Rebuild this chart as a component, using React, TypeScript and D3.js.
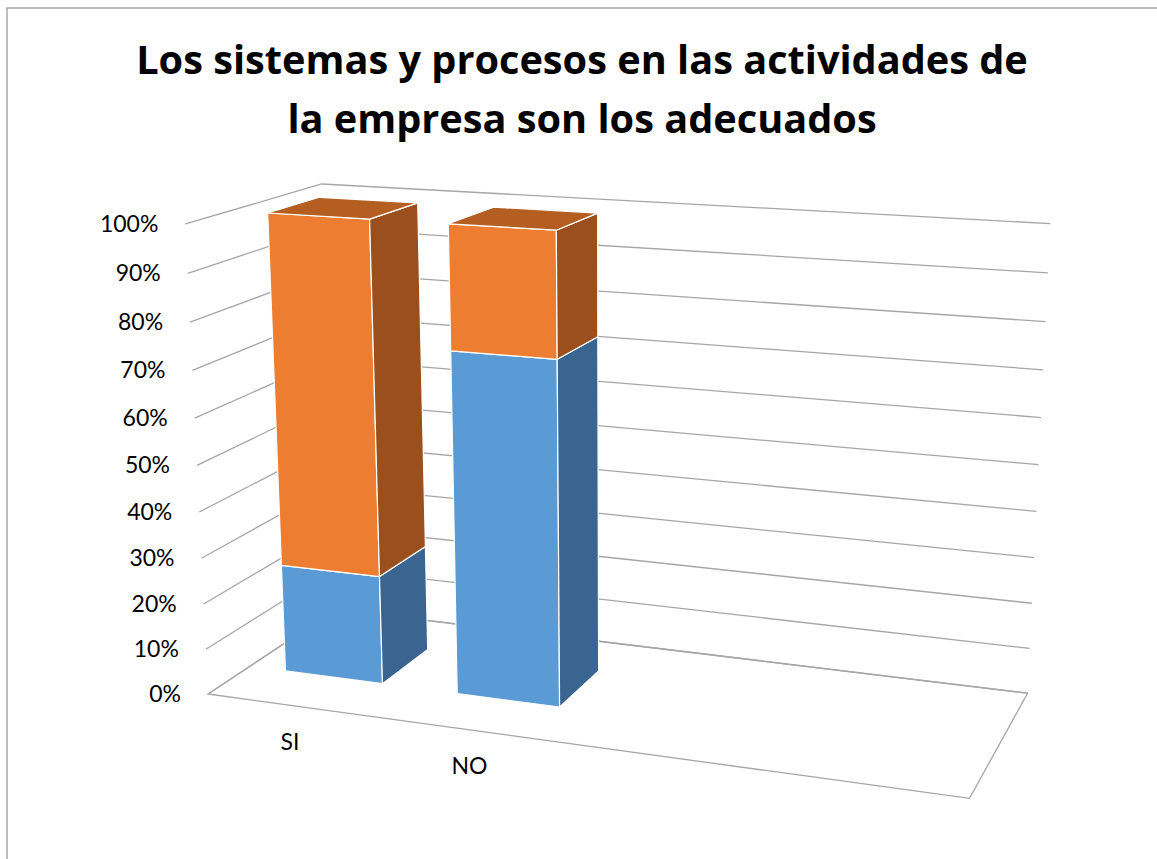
import React from "react";
import * as d3 from "d3";

const TITLE = ["Los sistemas y procesos en las actividades de", "la empresa son los adecuados"];
const CATEGORIES = ["SI", "NO", "", ""];
const SERIES_1 = [24, 74, 0, 0];
const SERIES_2 = [76, 26, 0, 0];
const Y_TICKS = [0, 0.1, 0.2, 0.3, 0.4, 0.5, 0.6, 0.7, 0.8, 0.9, 1];

const WIDTH = 1157;
const HEIGHT = 859;

// world box (px-ish units) and camera
const W = 790;
const H = 486;
const D = 290;
const CAM = { yaw: 20, pitch: 15, dist: 2338, focal: 2338, cx: 618, cy: 465 };

const COLORS = [
  { front: "#5b9bd5", side: "#3a6590", top: "#4a80b5" },
  { front: "#ed7d31", side: "#9a4f1d", top: "#b55e22" },
];

const rad = Math.PI / 180;
function project(x: number, y: number, z: number): [number, number] {
  const a = CAM.yaw * rad, b = CAM.pitch * rad;
  const vx = x - W / 2, vy = y - H / 2, vz = z - D / 2;
  const x1 = vx * Math.cos(a) + vz * Math.sin(a);
  const z1 = -vx * Math.sin(a) + vz * Math.cos(a);
  const yc = vy * Math.cos(b) + z1 * Math.sin(b);
  const zc = -vy * Math.sin(b) + z1 * Math.cos(b) + CAM.dist;
  return [CAM.cx + (CAM.focal * x1) / zc, CAM.cy - (CAM.focal * yc) / zc];
}

const poly = (pts: [number, number, number][]) =>
  pts.map((p) => project(p[0], p[1], p[2]).map((v) => v.toFixed(1)).join(",")).join(" ");

export default function App() {
  const xBand = d3.scaleBand<string>()
    .domain(CATEGORIES.map((c, i) => String(i)))
    .range([0, W])
    .paddingInner(0.75 / 1.75)
    .paddingOuter(0.375 / 1.75);
  const yScale = d3.scaleLinear().domain([0, 1]).range([0, H]);
  const bw = xBand.bandwidth();
  const z0 = (D - bw) / 2;
  const z1 = z0 + bw;

  const table = CATEGORIES.map((c, i) => ({ key: String(i), s1: SERIES_1[i], s2: SERIES_2[i] }));
  const stacked = d3.stack<any>().keys(["s1", "s2"]).offset(d3.stackOffsetExpand)(table);
  const fmt = d3.format(".0%");

  const line = (a: [number, number, number], b: [number, number, number], key: string) => {
    const p = project(...a);
    const q = project(...b);
    return <line key={key} x1={p[0]} y1={p[1]} x2={q[0]} y2={q[1]} stroke="#a6a6a6" strokeWidth={1.3} />;
  };

  const bars: React.ReactNode[] = [];
  CATEGORIES.forEach((c, i) => {
    const total = SERIES_1[i] + SERIES_2[i];
    if (!total) return;
    const x0 = xBand(String(i))!;
    const x1 = x0 + bw;
    stacked.forEach((s, si) => {
      const ya = yScale(s[i][0]);
      const yb = yScale(s[i][1]);
      const col = COLORS[si];
      const isTop = si === stacked.length - 1;
      bars.push(
        <g key={`b${i}-${si}`} stroke="#ffffff" strokeWidth={1.2} strokeLinejoin="round">
          <polygon points={poly([[x0, ya, z0], [x1, ya, z0], [x1, yb, z0], [x0, yb, z0]])} fill={col.front} />
          <polygon points={poly([[x1, ya, z0], [x1, ya, z1], [x1, yb, z1], [x1, yb, z0]])} fill={col.side} />
          {isTop && (
            <polygon points={poly([[x0, yb, z0], [x1, yb, z0], [x1, yb, z1], [x0, yb, z1]])} fill={col.top} />
          )}
        </g>
      );
    });
  });

  return (
    <div style={{ position: "absolute", left: 0, top: 0 }}>
      <svg width={WIDTH} height={HEIGHT} style={{ display: "block" }}>
        <rect x={0} y={0} width={WIDTH} height={HEIGHT} fill="#ffffff" />
        <rect x={7} y={8} width={WIDTH + 20} height={HEIGHT + 20} fill="none" stroke="#a6a6a6" strokeWidth={1.5} />
        <g fontFamily="'Open Sans', Lato, sans-serif" fontWeight={700} fontSize={39.7} textAnchor="middle" fill="#000">
          <text x={582} y={74}>{TITLE[0]}</text>
          <text x={582} y={133}>{TITLE[1]}</text>
        </g>

        {/* floor */}
        <polygon points={poly([[0, 0, 0], [W, 0, 0], [W, 0, D], [0, 0, D]])} fill="none" stroke="#a6a6a6" strokeWidth={1.3} />
        {/* gridlines: back wall and left wall */}
        {Y_TICKS.map((t) => (
          <g key={`g${t}`}>
            {line([0, yScale(t), D], [W, yScale(t), D], `bw${t}`)}
            {line([0, yScale(t), 0], [0, yScale(t), D], `lw${t}`)}
          </g>
        ))}

        {bars}

        {/* y tick labels */}
        <g fontFamily="Lato, 'Open Sans', sans-serif" fontSize={23} fill="#000" textAnchor="end">
          {Y_TICKS.map((t) => {
            const p = project(0, yScale(t), 0);
            return (
              <text key={`t${t}`} x={p[0] - 27} y={p[1]} dy="0.35em">{fmt(t)}</text>
            );
          })}
        </g>
        {/* category labels */}
        <g fontFamily="Lato, 'Open Sans', sans-serif" fontSize={23} fill="#000" textAnchor="middle">
          {CATEGORIES.map((c, i) => {
            const p = project(xBand(String(i))! + bw / 2, 0, 0);
            return (
              <text key={`c${i}`} x={p[0] - 4} y={p[1] + 36} dy="0.35em">{c}</text>
            );
          })}
        </g>
      </svg>
    </div>
  );
}
